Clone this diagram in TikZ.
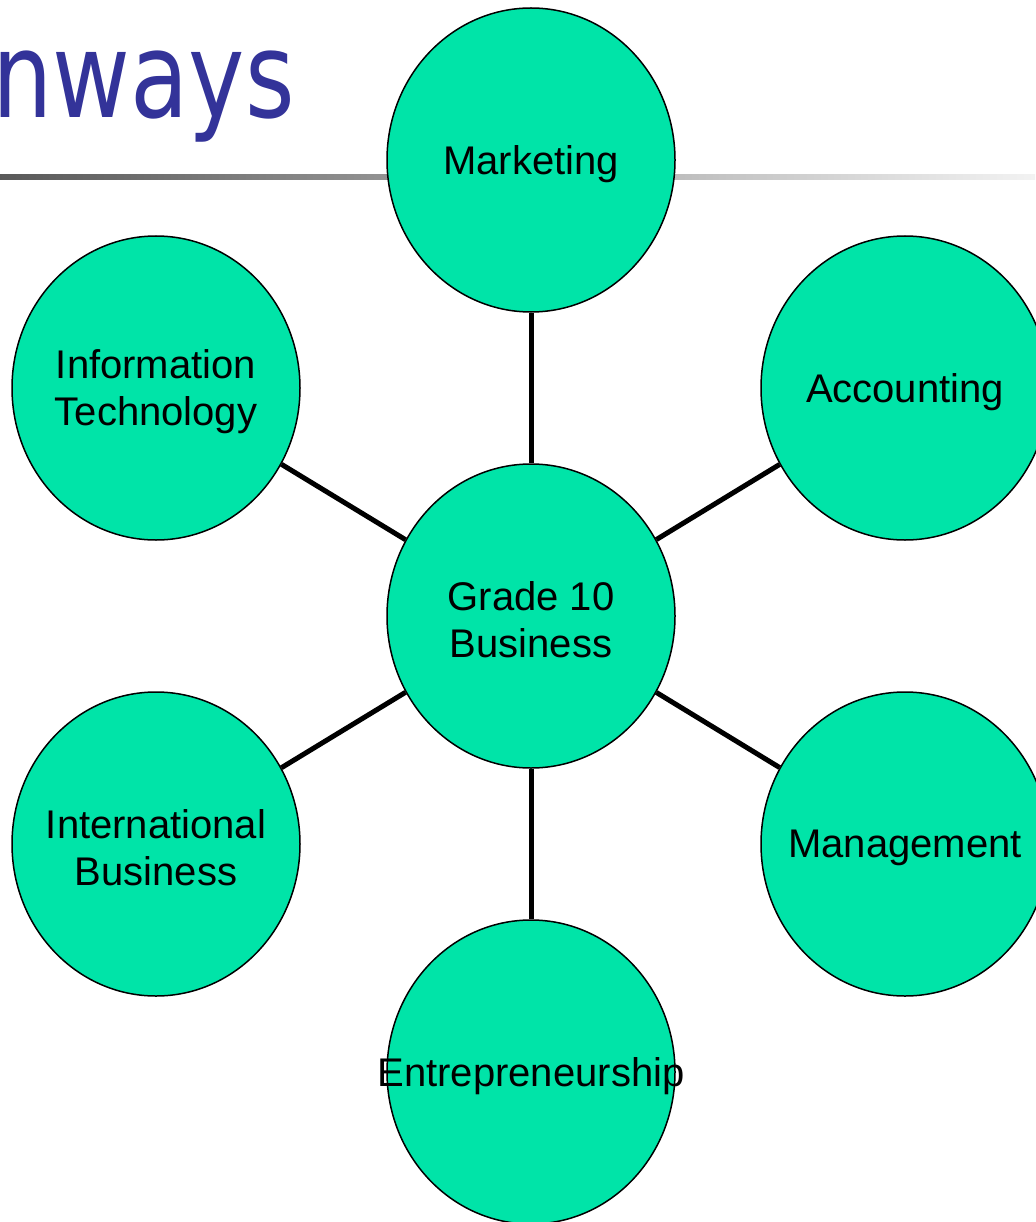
\documentclass[tikz,border=0pt]{standalone}
\usepackage{fontspec}
\setmainfont{Liberation Sans}
\newfontfamily\titlefont{DejaVu Sans}
\usetikzlibrary{shapes.geometric}
\definecolor{pathgreen}{RGB}{0,228,168}
\definecolor{titleblue}{RGB}{51,51,153}

\begin{document}
\begin{tikzpicture}[x=1pt,y=-1pt,
  topic/.style={ellipse,draw=black,line width=1.5pt,fill=pathgreen,
    minimum width=288pt,minimum height=304pt,inner sep=0pt},
  lbl/.style={align=center,inner sep=0pt,yshift=-4pt,font=\fontsize{40}{47}\selectfont},
  link/.style={line width=5pt,black}]
  \useasboundingbox (0,0) rectangle (1035,1222);

  % Title and rule under it
  \node[anchor=base west,inner sep=0pt,text=titleblue,
    font=\titlefont\fontsize{119}{140}\selectfont] (title) at (-8,118) {\scalebox{0.8}[1]{nways}};
  \shade[left color=black!65,right color=black!5] (0,175) rectangle (1035,180);

  % Centre and the six pathways
  \node[topic,label={[lbl]center:Grade 10\\Business}] (hub) at (531,616) {};
  \node[topic,label={[lbl]center:Marketing}] (mkt) at (531,160) {};
  \node[topic,label={[lbl]center:Accounting}] (acc) at (905,388) {};
  \node[topic,label={[lbl]center:Management}] (mgt) at (905,844) {};
  \node[topic,label={[lbl]center:Entrepreneurship}] (ent) at (531,1072) {};
  \node[topic,label={[lbl]center:International\\Business}] (intl) at (156,844) {};
  \node[topic,label={[lbl]center:Information\\Technology}] (it) at (156,388) {};

  % Spokes
  \foreach \t in {mkt,acc,mgt,ent,intl,it}
    \draw[link] (hub) -- (\t);
\end{tikzpicture}
\end{document}
